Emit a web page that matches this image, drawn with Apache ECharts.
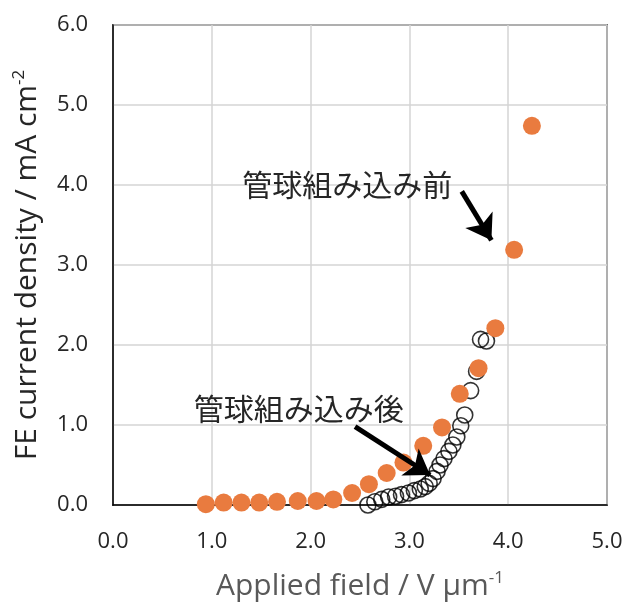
<!DOCTYPE html>
<html>
<head>
<meta charset="utf-8">
<script src="https://cdn.jsdelivr.net/npm/echarts@6/dist/echarts.min.js"></script>
<style>html,body{margin:0;padding:0;background:#fff}#c{width:624px;height:604px}</style>
</head>
<body>
<div id="c"></div>
<script>
// Before tube assembly (orange, filled)
var beforeX = [0.94, 1.12, 1.30, 1.48, 1.66, 1.87, 2.06, 2.23, 2.42, 2.59, 2.77, 2.94, 3.14, 3.33, 3.51, 3.70, 3.87, 4.06, 4.24];
var beforeY = [0.01, 0.03, 0.03, 0.03, 0.04, 0.05, 0.05, 0.07, 0.15, 0.26, 0.40, 0.53, 0.74, 0.97, 1.39, 1.71, 2.21, 3.19, 4.74];
// After tube assembly (black, open)
var afterX = [2.58, 2.65, 2.72, 2.79, 2.86, 2.92, 2.99, 3.05, 3.11, 3.16, 3.20, 3.24, 3.28, 3.31, 3.35, 3.40, 3.44, 3.48, 3.52, 3.56, 3.62, 3.68, 3.72, 3.78];
var afterY = [0.00, 0.04, 0.07, 0.10, 0.11, 0.13, 0.15, 0.18, 0.20, 0.23, 0.27, 0.33, 0.42, 0.50, 0.58, 0.67, 0.75, 0.85, 0.99, 1.125, 1.43, 1.67, 2.07, 2.05];
var xTicks = [0, 1, 2, 3, 4, 5];
var yTicks = [0, 1, 2, 3, 4, 5, 6];
// annotations (data coordinates)
var labelBefore = {text: '管球組み込み前', at: [2.37, 4.0], arrowFrom: [3.53, 3.92], arrowTo: [3.83, 3.31]};
var labelAfter = {text: '管球組み込み後', at: [1.88, 1.21], arrowFrom: [2.45, 0.98], arrowTo: [3.21, 0.375]};

function zip(a, b) { return a.map(function (v, i) { return [v, b[i]]; }); }

var chart = echarts.init(document.getElementById('c'), null, {renderer: 'canvas'});
var tickFont = {fontFamily: 'Open Sans', fontSize: 22, color: '#262626'};
chart.setOption({
  animation: false,
  grid: {left: 113, top: 25, width: 494, height: 480, containLabel: false, outerBoundsMode: 'none',
    show: true, borderColor: '#000', borderWidth: 1.5, backgroundColor: 'transparent'},
  xAxis: {
    type: 'value', min: xTicks[0], max: xTicks[xTicks.length - 1], interval: 1,
    axisLine: {show: true, lineStyle: {color: '#000', width: 1.5}},
    axisTick: {show: false},
    splitLine: {show: true, lineStyle: {color: '#d4d4d4', width: 1.5}},
    axisLabel: Object.assign({margin: 26, formatter: function (v) { return v.toFixed(1); }}, tickFont),
    name: '{t|Applied field / V μm}{s|-1}',
    nameLocation: 'middle', nameGap: 64,
    nameTextStyle: {rich: {
      t: {fontFamily: 'Open Sans', fontSize: 30, color: '#595959', lineHeight: 34},
      s: {fontFamily: 'Open Sans', fontSize: 17, color: '#595959', lineHeight: 34, padding: [0, 0, 15, 0]}
    }}
  },
  yAxis: {
    type: 'value', min: yTicks[0], max: yTicks[yTicks.length - 1], interval: 1,
    axisLine: {show: true, lineStyle: {color: '#000', width: 1.5}},
    axisTick: {show: false},
    splitLine: {show: true, lineStyle: {color: '#d4d4d4', width: 1.5}},
    axisLabel: Object.assign({margin: 25, formatter: function (v) { return v.toFixed(1); }}, tickFont),
    name: '{t|FE current density / mA cm}{s|-2}',
    nameLocation: 'middle', nameGap: 69,
    nameTextStyle: {rich: {
      t: {fontFamily: 'Open Sans', fontSize: 30, color: '#262626', lineHeight: 34},
      s: {fontFamily: 'Open Sans', fontSize: 17, color: '#262626', lineHeight: 34, padding: [0, 0, 15, 0]}
    }}
  },
  series: [
    {
      type: 'scatter', name: 'after', data: zip(afterX, afterY),
      symbol: 'circle', symbolSize: 16,
      itemStyle: {color: 'rgba(0,0,0,0)', borderColor: '#000', borderWidth: 1.6},
      z: 2
    },
    {
      type: 'scatter', name: 'before', data: zip(beforeX, beforeY),
      symbol: 'circle', symbolSize: 18,
      itemStyle: {color: '#E97B3F', opacity: 1},
      z: 3,
      markLine: {
        silent: true, animation: false,
        symbol: ['none', 'arrow'], symbolSize: 24,
        itemStyle: {color: '#000'},
        lineStyle: {color: '#000', width: 5, type: 'solid', opacity: 1},
        label: {show: false},
        data: [
          [{coord: labelBefore.arrowFrom}, {coord: labelBefore.arrowTo}],
          [{coord: labelAfter.arrowFrom}, {coord: labelAfter.arrowTo}]
        ]
      },
      markPoint: {
        silent: true, animation: false,
        symbol: 'circle', symbolSize: 0,
        label: {show: true, position: 'inside', fontFamily: 'Noto Sans CJK JP', fontSize: 30, color: '#262626',
          formatter: function (p) { return p.name; }},
        data: [
          {name: labelBefore.text, coord: labelBefore.at},
          {name: labelAfter.text, coord: labelAfter.at}
        ]
      }
    }
  ]
});
</script>
</body>
</html>
